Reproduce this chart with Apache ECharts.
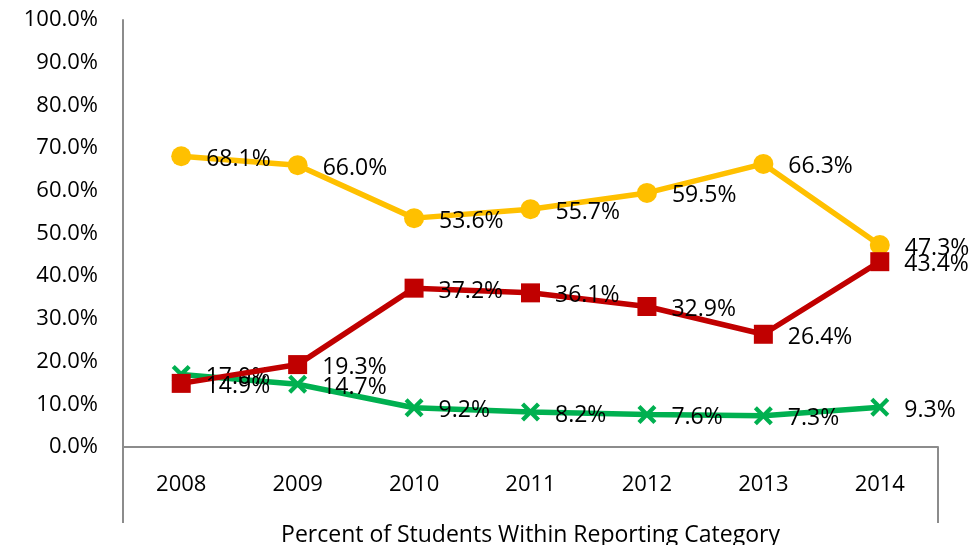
<!DOCTYPE html>
<html>
<head>
<meta charset="utf-8">
<script src="https://cdn.jsdelivr.net/npm/echarts@6/dist/echarts.min.js"></script>
<style>
  html, body { margin: 0; padding: 0; background: #fff; }
  #chart { width: 978px; height: 545px; }
</style>
</head>
<body>
<div id="chart"></div>
<script>
// data
var years = ['2008', '2009', '2010', '2011', '2012', '2013', '2014'];
var yellowVals = [68.1, 66.0, 53.6, 55.7, 59.5, 66.3, 47.3];
var redVals = [14.9, 19.3, 37.2, 36.1, 32.9, 26.4, 43.4];
var greenVals = [17.0, 14.7, 9.2, 8.2, 7.6, 7.3, 9.3];
var xTitle = 'Percent of Students Within Reporting Category';

var FONT = '"Open Sans", "Noto Sans", sans-serif';
var AXIS_GRAY = '#8c8c8c';

// grid edges (px)
var gLeft = 123, gRight = 40, gTop = 20, gBottom = 98;

// X marker drawn as a filled shape
var crossPath = 'path://M0,16L16,0L50,34L84,0L100,16L66,50L100,84L84,100L50,66L16,100L0,84L34,50Z';

var myChart = echarts.init(document.getElementById('chart'));

function lbl() {
  return {
    show: true,
    position: 'right',
    distance: 15,
    offset: [0, 3],
    color: '#000',
    fontFamily: FONT,
    fontSize: 23,
    formatter: function (p) { return p.value.toFixed(1) + '%'; }
  };
}

var options = {
  animation: false,
  grid: { left: gLeft, right: gRight, top: gTop, bottom: gBottom, containLabel: false, outerBoundsMode: 'none' },
  xAxis: {
    type: 'category',
    data: years,
    boundaryGap: true,
    axisLine: { lineStyle: { color: AXIS_GRAY, width: 2 } },
    axisTick: { show: false },
    axisLabel: { color: '#000', fontFamily: FONT, fontSize: 22, margin: 27 },
    name: xTitle,
    nameLocation: 'middle',
    nameGap: 77,
    nameTextStyle: { color: '#000', fontFamily: FONT, fontSize: 23 }
  },
  yAxis: {
    type: 'value',
    min: 0,
    max: 100,
    interval: 10,
    axisLine: { show: true, lineStyle: { color: AXIS_GRAY, width: 2 } },
    axisTick: { show: false },
    splitLine: { show: false },
    axisLabel: {
      color: '#000', fontFamily: FONT, fontSize: 22, margin: 25,
      formatter: function (v) { return v.toFixed(1) + '%'; }
    }
  },
  series: [
    {
      name: 'yellow', type: 'line', data: yellowVals,
      symbol: 'circle', symbolSize: 20,
      lineStyle: { color: '#FFC000', width: 5.5 },
      itemStyle: { color: '#FFC000' },
      label: lbl(), z: 3
    },
    {
      name: 'red', type: 'line', data: redVals,
      symbol: 'rect', symbolSize: 19,
      lineStyle: { color: '#C00000', width: 5.5 },
      itemStyle: { color: '#C00000' },
      label: lbl(), z: 4
    },
    {
      name: 'green', type: 'line', data: greenVals,
      symbol: crossPath, symbolSize: 19,
      lineStyle: { color: '#00B050', width: 5.5 },
      itemStyle: { color: '#00B050' },
      label: lbl(), z: 2
    }
  ],
  graphic: [
    // category box sides below the axis
    { type: 'line', shape: { x1: gLeft, y1: 545 - gBottom, x2: gLeft, y2: 523 },
      style: { stroke: AXIS_GRAY, lineWidth: 2 } },
    { type: 'line', shape: { x1: 978 - gRight, y1: 545 - gBottom, x2: 978 - gRight, y2: 523 },
      style: { stroke: AXIS_GRAY, lineWidth: 2 } }
  ]
};

myChart.setOption(options);
</script>
</body>
</html>
